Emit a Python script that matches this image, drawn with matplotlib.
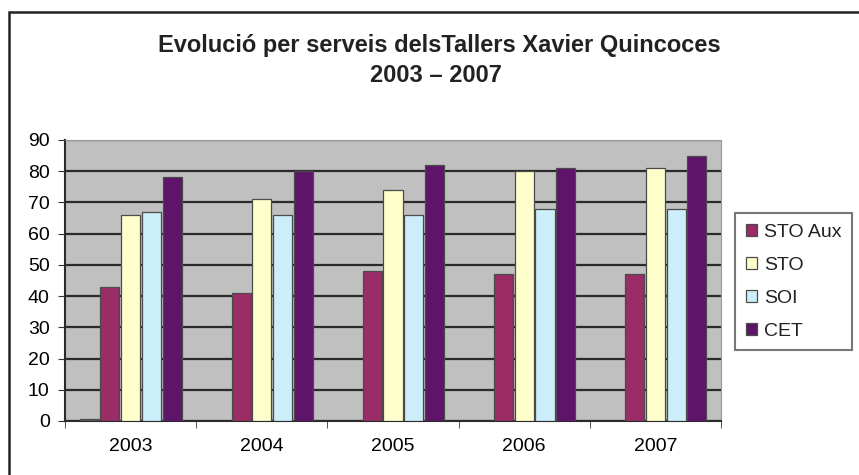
import matplotlib.pyplot as plt
import numpy as np

years = ["2003", "2004", "2005", "2006", "2007"]
series = ["", "STO Aux", "STO", "SOI", "CET"]
unnamed = [0.6, 0, 0, 0, 0]   # tiny unlabelled bar at the start of 2003
sto_aux = [43, 41, 48, 47, 47]
sto = [66, 71, 74, 80, 81]
soi = [67, 66, 66, 68, 68]
cet = [78, 80, 82, 81, 85]
colours = ["#555555", "#9A2D66", "#FFFFCC", "#CCEEFA", "#5E1468"]

plt.rcParams["font.family"] = ["Liberation Sans", "DejaVu Sans"]

fig = plt.figure(figsize=(8.59, 4.75), dpi=100, facecolor="white")
ax = fig.add_axes([0.0757, 0.1137, 0.7637, 0.5916])
ax.set_facecolor("#C0C0C0")

x = np.arange(len(years))
width = 0.158
handles = []
for i, (vals, colour, name) in enumerate(zip([unnamed, sto_aux, sto, soi, cet], colours, series)):
    b = ax.bar(x + (i - 2) * width, vals, width * 0.92, color=colour,
               edgecolor="#4a4a4a", linewidth=0.9, label=name, zorder=3)
    if name:
        handles.append(b)

ax.set_ylim(0, 90)
ax.set_xlim(-0.5, len(years) - 0.5)
ax.set_yticks(range(0, 91, 10))
ax.yaxis.grid(True, color="#2a2a2a", linewidth=1.6, zorder=1)
ax.set_xticks(x)
ax.set_xticklabels(years)
ax.set_xticks(np.arange(-0.5, len(years), 1), minor=True)
ax.tick_params(axis="x", which="major", length=0, pad=12, labelsize=14)
ax.tick_params(axis="x", which="minor", length=5, direction="out", color="#333333")
ax.tick_params(axis="y", length=5, direction="out", labelsize=14, color="#333333", pad=6)
for s in ["top", "right"]:
    ax.spines[s].set_color("#999999")
for s in ["left", "bottom"]:
    ax.spines[s].set_color("#2a2a2a")
    ax.spines[s].set_linewidth(1.5)

fig.text(0.512, 0.905, "Evolució per serveis delsTallers Xavier Quincoces",
         ha="center", va="center", fontsize=17, fontweight="bold", color="#222222")
fig.text(0.507, 0.842, "2003 \u2013 2007", ha="center", va="center",
         fontsize=17, fontweight="bold", color="#222222")

leg = fig.legend(handles=handles, loc="upper left", bbox_to_anchor=(0.8557, 0.5516),
                 frameon=True, fancybox=False, edgecolor="#555555", fontsize=14,
                 handlelength=0.6, handleheight=0.6, handletextpad=0.35,
                 labelspacing=0.82, borderpad=0.55, borderaxespad=0)
leg.get_frame().set_linewidth(1.5)
for t in leg.get_texts():
    t.set_color("#222222")

# outer chart border
fig.patches.append(plt.Rectangle((0.0105, -0.05), 1.1, 1.0252, transform=fig.transFigure,
                                 fill=False, edgecolor="#222222", linewidth=1.8))

fig.savefig("out.png", dpi=100, facecolor="white")
